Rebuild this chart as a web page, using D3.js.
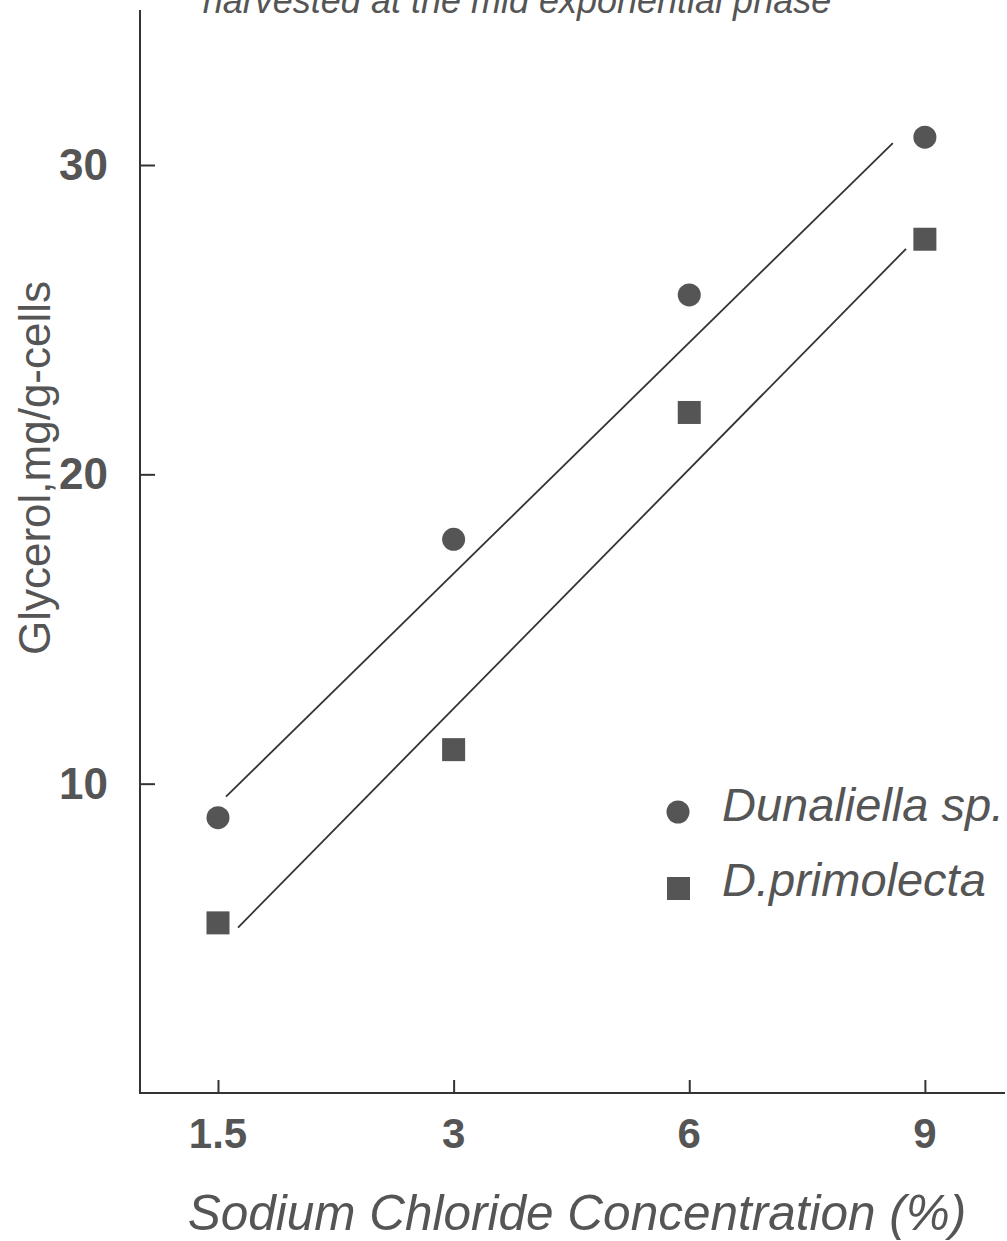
<!DOCTYPE html>
<html>
<head>
<script src="https://d3js.org/d3.v7.min.js"></script>
<style>
  body { margin: 0; background: #fff; }
  text { font-family: "Liberation Sans", Arial, sans-serif; fill: #555; }
</style>
</head>
<body>
<svg width="1007" height="1241"></svg>
<script>
// data
var salt = ["1.5", "3", "6", "9"];
var dunaliella = [8.9, 17.9, 25.8, 30.9];
var primolecta = [5.5, 11.1, 22.0, 27.6];
var yTicks = [10, 20, 30];
// fitted lines as drawn: [start index, start value, end index, end value]
var fitDunaliella = [0.034, 9.58, 2.864, 30.71];
var fitPrimolecta = [0.085, 5.35, 2.92, 27.29];

var svg = d3.select("svg");
var ink = "#555";

var x = d3.scaleLinear().domain([-0.331, 3.34]).range([140, 1005]);
var y = d3.scaleLinear().domain([0, 30]).range([1093, 165]);

// title, cut off at the top edge in the original
svg.append("text")
   .attr("x", 517)
   .attr("y", 13)
   .attr("text-anchor", "middle")
   .attr("font-size", "36px")
   .attr("font-style", "italic")
   .text("harvested at the mid exponential phase");

// y axis
var yAxis = svg.append("g")
   .attr("transform", "translate(140,0)")
   .call(d3.axisRight(y).tickValues(yTicks).tickSize(15).tickFormat(""));
yAxis.select(".domain").remove();
yAxis.selectAll("line").attr("stroke", "#333").attr("stroke-width", 2);
svg.append("line")
   .attr("x1", 140).attr("x2", 140)
   .attr("y1", 10).attr("y2", 1094)
   .attr("stroke", "#333").attr("stroke-width", 2);

svg.selectAll(".ylab")
   .data(yTicks)
   .enter().append("text")
   .attr("class", "ylab")
   .attr("x", 108)
   .attr("y", function(d) { return y(d) + 15; })
   .attr("text-anchor", "end")
   .attr("font-size", "44px")
   .attr("font-weight", "bold")
   .text(function(d) { return d; });

// x axis
var xAxis = svg.append("g")
   .attr("transform", "translate(0,1093)")
   .call(d3.axisTop(x).tickValues([0, 1, 2, 3]).tickSize(13).tickFormat(""));
xAxis.select(".domain").remove();
xAxis.selectAll("line").attr("stroke", "#333").attr("stroke-width", 2);
svg.append("line")
   .attr("x1", 139).attr("x2", 1005)
   .attr("y1", 1093).attr("y2", 1093)
   .attr("stroke", "#333").attr("stroke-width", 2);

svg.selectAll(".xlab")
   .data(salt)
   .enter().append("text")
   .attr("class", "xlab")
   .attr("x", function(d, i) { return x(i); })
   .attr("y", 1148)
   .attr("text-anchor", "middle")
   .attr("font-size", "42px")
   .attr("font-weight", "bold")
   .text(function(d) { return d; });

// axis titles
svg.append("text")
   .attr("x", 577)
   .attr("y", 1230)
   .attr("text-anchor", "middle")
   .attr("font-size", "49.5px")
   .attr("font-style", "italic")
   .text("Sodium Chloride Concentration (%)");

svg.append("text")
   .attr("transform", "translate(50,468) rotate(-90)")
   .attr("text-anchor", "middle")
   .attr("font-size", "44px")
   .text("Glycerol,mg/g-cells");

// fitted lines
[fitDunaliella, fitPrimolecta].forEach(function(f) {
  svg.append("line")
     .attr("x1", x(f[0])).attr("y1", y(f[1]))
     .attr("x2", x(f[2])).attr("y2", y(f[3]))
     .attr("stroke", "#333")
     .attr("stroke-width", 1.8);
});

// markers
svg.selectAll(".dot")
   .data(dunaliella)
   .enter().append("circle")
   .attr("class", "dot")
   .attr("cx", function(d, i) { return x(i); })
   .attr("cy", function(d) { return y(d); })
   .attr("r", 11.5)
   .attr("fill", ink);

svg.selectAll(".sq")
   .data(primolecta)
   .enter().append("rect")
   .attr("class", "sq")
   .attr("x", function(d, i) { return x(i) - 11.5; })
   .attr("y", function(d) { return y(d) - 11.5; })
   .attr("width", 23)
   .attr("height", 23)
   .attr("fill", ink);

// legend
svg.append("circle")
   .attr("cx", 678).attr("cy", 812).attr("r", 11.5)
   .attr("fill", ink);
svg.append("rect")
   .attr("x", 667).attr("y", 877).attr("width", 23).attr("height", 23)
   .attr("fill", ink);
svg.append("text")
   .attr("x", 722).attr("y", 821)
   .attr("font-size", "47px")
   .attr("font-style", "italic")
   .text("Dunaliella sp.");
svg.append("text")
   .attr("x", 722).attr("y", 896)
   .attr("font-size", "47px")
   .attr("font-style", "italic")
   .text("D.primolecta");
</script>
</body>
</html>
